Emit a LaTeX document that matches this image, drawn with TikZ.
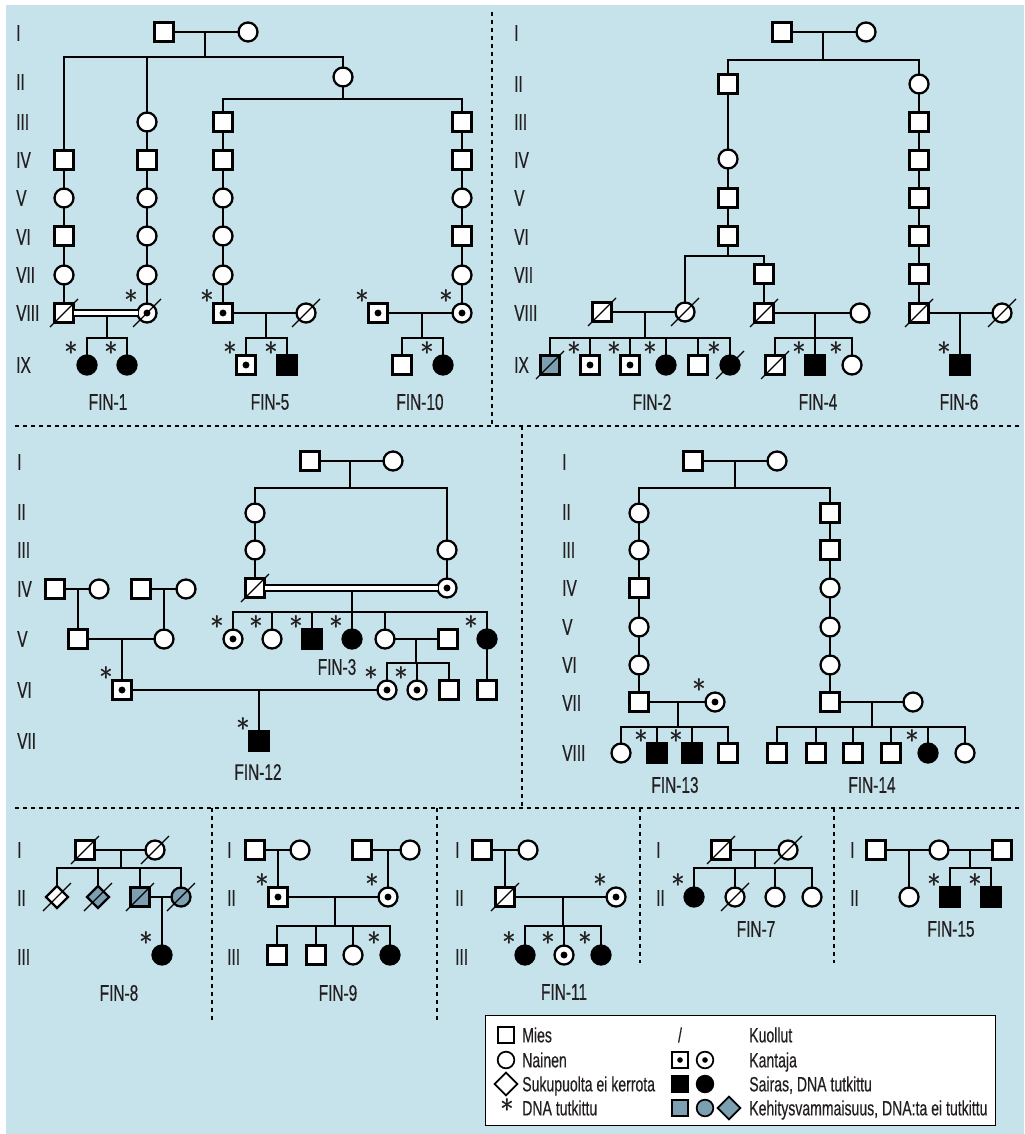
\documentclass[tikz,border=0pt]{standalone}
\usepackage{fontspec}
\setmainfont{Liberation Sans}[FakeStretch=0.68, FakeBold=0.4]
\usetikzlibrary{shapes.geometric}
\definecolor{bg}{RGB}{198,227,235}
\definecolor{grey}{RGB}{124,160,178}
\definecolor{txt}{RGB}{35,31,32}
\newcommand\genfont{\fontsize{17pt}{20pt}\selectfont}
\newcommand\legfont{\fontsize{15.5pt}{18pt}\selectfont}
\newcommand\astfont{\sffamily\fontsize{22pt}{22pt}\selectfont}
\newcommand\sibs[2]{\foreach \c in {#2} {\draw[ln] (\c) -- (\c |- #1);}}
\tikzset{
  sym/.style={draw=black, line width=1.7pt, fill=white, inner sep=0pt, outer sep=0pt, minimum size=14.25pt},
  mal/.style={sym, rectangle},
  fem/.style={sym, circle},
  unk/.style={sym, diamond, minimum size=16.5pt},
  aff/.style={fill=black},
  gry/.style={fill=grey},
  car/.style={path picture={\fill[black] (path picture bounding box.center) circle[radius=2.6pt];}},
  lcar/.style={path picture={\fill[black] (path picture bounding box.center) circle[radius=2.1pt];}},
  dslash/.style={draw=black, line width=0.9pt},
  dead/.style={append after command={([shift={(-14,14)}]\tikzlastnode.center) edge[dslash] ([shift={(14,-14)}]\tikzlastnode.center)}},
  astlab/.style={font=\astfont, text=txt, inner sep=0pt, xshift=-12pt, yshift=9pt},
  dna/.style={label={[astlab]center:{*}}},
  ln/.style={draw=black, line width=1.7pt, line cap=rect},
  dbl/.style={draw=black, line width=1.5pt, double=white, double distance=2.6pt},
  gen/.style={font=\genfont, text=txt, anchor=west, inner sep=0pt},
  fin/.style={font=\genfont, text=txt, inner sep=0pt},
  divline/.style={draw=black, line width=0.8pt, dash pattern=on 3.2pt off 2.8pt},
  lsym/.style={draw=black, line width=1.3pt, fill=white, inner sep=0pt, minimum size=12.5pt},
  lmal/.style={lsym, rectangle},
  lfem/.style={lsym, circle},
  lunk/.style={lsym, diamond, minimum size=17.5pt},
  legtxt/.style={font=\legfont, text=txt, anchor=west, inner sep=0pt, text height=11pt, text depth=0pt},
}
\begin{document}
\begin{tikzpicture}[x=0.75pt,y=-0.75pt]
\useasboundingbox (0,0) rectangle (1024,1134);
\fill[bg] (6,5) rectangle (1024,1134);
% panel dividers
\draw[divline] (492,12) -- (492,426);
\draw[divline] (15,426) -- (1020,426);
\draw[divline] (522,426) -- (522,808);
\draw[divline] (15,808) -- (1020,808);
\draw[divline] (212,808) -- (212,1022);
\draw[divline] (437,808) -- (437,1022);
\draw[divline] (640,808) -- (640,963);
\draw[divline] (834,808) -- (834,963);

% ================= Panel A: FIN-1, FIN-5, FIN-10
\foreach \t/\y in {I/33,II/82,III/122,IV/160,V/198,VI/237,VII/275,VIII/313,IX/365}
  \node[gen] (gA-\t) at (16,\y) {\t};
\node[mal] (A1) at (164,32) {};
\node[fem] (A2) at (248,32) {};
\coordinate (Am) at (205,32); \coordinate (As) at (205,57);
\node[mal] (A14) at (64,160) {};
\node[fem] (A15) at (64,198) {};
\node[mal] (A16) at (64,236) {};
\node[fem] (A17) at (64,275) {};
\node[mal,dead] (A18) at (64,313) {};
\node[fem] (A23) at (147,122) {};
\node[mal] (A24) at (147,160) {};
\node[fem] (A25) at (147,198) {};
\node[fem] (A26) at (147,236) {};
\node[fem] (A27) at (147,275) {};
\node[fem,car,dead,dna] (A28) at (147,313) {};
\node[fem] (A32) at (343,77) {};
\coordinate (A3s) at (343,99);
\node[mal] (A43) at (223,122) {};
\node[mal] (A44) at (223,160) {};
\node[fem] (A45) at (223,198) {};
\node[fem] (A46) at (223,236) {};
\node[fem] (A47) at (223,275) {};
\node[mal,car,dna] (A48) at (223,313) {};
\node[mal] (A53) at (462,122) {};
\node[mal] (A54) at (462,160) {};
\node[fem] (A55) at (462,198) {};
\node[mal] (A56) at (462,236) {};
\node[fem] (A57) at (462,275) {};
\node[fem,car,dna] (A58) at (462,313) {};
\coordinate (A1m) at (107,313); \coordinate (A1s) at (107,338);
\node[fem,aff,dna] (A19a) at (87,365) {};
\node[fem,aff,dna] (A19b) at (127,365) {};
\node[fem,dead] (A5w) at (306,313) {};
\coordinate (A5m) at (266,313); \coordinate (A5s) at (266,338);
\node[mal,car,dna] (A59a) at (246,365) {};
\node[mal,aff,dna] (A59b) at (287,365) {};
\node[mal,car,dna] (A10h) at (378,313) {};
\coordinate (A10m) at (422,313); \coordinate (A10s) at (422,338);
\node[mal] (A10a) at (402,365) {};
\node[fem,aff,dna] (A10b) at (443,365) {};
\draw[ln] (A1) -- (A2);
\draw[ln] (Am) -- (As);
\draw[ln] (A14) -- (A14 |- As) -- (A32 |- As) -- (A32);
\sibs{As}{A23}
\draw[ln] (A14) -- (A15) -- (A16) -- (A17) -- (A18);
\draw[ln] (A23) -- (A24) -- (A25) -- (A26) -- (A27) -- (A28);
\draw[ln] (A32) -- (A3s);
\draw[ln] (A43) -- (A43 |- A3s) -- (A53 |- A3s) -- (A53);
\draw[ln] (A43) -- (A44) -- (A45) -- (A46) -- (A47) -- (A48);
\draw[ln] (A53) -- (A54) -- (A55) -- (A56) -- (A57) -- (A58);
\draw[ln] (A1m) -- (A1s);
\draw[dbl] (A18) -- (A28);
\draw[ln] (A19a) -- (A19a |- A1s) -- (A19b |- A1s) -- (A19b);
\draw[ln] (A48) -- (A5w);
\draw[ln] (A5m) -- (A5s);
\draw[ln] (A59a) -- (A59a |- A5s) -- (A59b |- A5s) -- (A59b);
\draw[ln] (A10h) -- (A58);
\draw[ln] (A10m) -- (A10s);
\draw[ln] (A10a) -- (A10a |- A10s) -- (A10b |- A10s) -- (A10b);
\node[fin] (finA1) at (108,402) {FIN-1};
\node[fin] (finA5) at (270,402) {FIN-5};
\node[fin] (finA10) at (420,402) {FIN-10};

% ================= Panel B: FIN-2, FIN-4, FIN-6
\foreach \t/\y in {I/33,II/84,III/122,IV/160,V/198,VI/237,VII/275,VIII/313,IX/365}
  \node[gen] (gB-\t) at (514,\y) {\t};
\node[mal] (B1) at (782,32) {};
\node[fem] (B2) at (866,32) {};
\coordinate (Bm) at (823,32); \coordinate (Bs) at (823,60);
\node[mal] (BL2) at (728,84) {};
\node[fem] (BL4) at (728,159) {};
\node[mal] (BL5) at (728,198) {};
\node[mal] (BL6) at (728,236) {};
\coordinate (BLs) at (728,256);
\node[fem,dead] (B2w) at (685,312) {};
\node[mal] (B47) at (764,274) {};
\node[mal,dead] (B48) at (764,313) {};
\node[mal,dead] (B2h) at (602,312) {};
\coordinate (B2m) at (645,312); \coordinate (B2s) at (645,338);
\node[mal,gry,dead] (B2c1) at (550,365) {};
\node[mal,car,dna] (B2c2) at (590,365) {};
\node[mal,car,dna] (B2c3) at (630,365) {};
\node[fem,aff,dna] (B2c4) at (666,365) {};
\node[mal] (B2c5) at (698,365) {};
\node[fem,aff,dead,dna] (B2c6) at (730,365) {};
\node[fem] (B4w) at (860,313) {};
\coordinate (B4m) at (815,313); \coordinate (B4s) at (815,338);
\node[mal,dead] (B4c1) at (775,365) {};
\node[mal,aff,dna] (B4c2) at (815,365) {};
\node[fem,dna] (B4c3) at (852,365) {};
\node[fem] (BR2) at (919,84) {};
\node[mal] (BR3) at (919,122) {};
\node[mal] (BR4) at (919,160) {};
\node[mal] (BR5) at (919,198) {};
\node[mal] (BR6) at (919,236) {};
\node[mal] (BR7) at (919,274) {};
\node[mal,dead] (BR8) at (919,313) {};
\node[fem,dead] (B6w) at (1002,313) {};
\coordinate (B6m) at (960,313);
\node[mal,aff,dna] (B6c) at (960,365) {};
\draw[ln] (B1) -- (B2);
\draw[ln] (Bm) -- (Bs);
\draw[ln] (BL2) -- (BL2 |- Bs) -- (BR2 |- Bs) -- (BR2);
\draw[ln] (BL2) -- (BL4) -- (BL5) -- (BL6);
\draw[ln] (BL6) -- (BLs);
\draw[ln] (B2w) -- (B2w |- BLs) -- (B47 |- BLs) -- (B47);
\draw[ln] (B47) -- (B48);
\draw[ln] (B2h) -- (B2w);
\draw[ln] (B2m) -- (B2s);
\draw[ln] (B2c1 |- B2s) -- (B2c6 |- B2s);
\sibs{B2s}{B2c1,B2c2,B2c3,B2c4,B2c5,B2c6}
\draw[ln] (B48) -- (B4w);
\draw[ln] (B4m) -- (B4s);
\draw[ln] (B4c1 |- B4s) -- (B4c3 |- B4s);
\sibs{B4s}{B4c1,B4c2,B4c3}
\draw[ln] (BR2) -- (BR3) -- (BR4) -- (BR5) -- (BR6) -- (BR7) -- (BR8);
\draw[ln] (BR8) -- (B6w);
\draw[ln] (B6m) -- (B6c);
\node[fin] (finB2) at (652,402) {FIN-2};
\node[fin] (finB4) at (818,402) {FIN-4};
\node[fin] (finB6) at (959,402) {FIN-6};

% ================= Panel C: FIN-3, FIN-12
\foreach \t/\y in {I/462,II/512,III/550,IV/589,V/639,VI/690,VII/741}
  \node[gen] (gC-\t) at (17,\y) {\t};
\node[mal] (C1) at (310,461) {};
\node[fem] (C2) at (393,461) {};
\coordinate (Cm) at (350,461); \coordinate (Cs) at (350,488);
\node[fem] (CL2) at (255,513) {};
\node[fem] (CL3) at (255,550) {};
\node[mal,dead] (CL4) at (255,588) {};
\node[fem] (CR3) at (447,550) {};
\node[fem,car] (CR4) at (447,588) {};
\coordinate (C3m) at (352,588); \coordinate (C3s) at (352,612);
\node[fem,car,dna] (C5a) at (233,639) {};
\node[fem,dna] (C5b) at (272,639) {};
\node[mal,aff,dna] (C5c) at (312,639) {};
\node[fem,aff,dna] (C5d) at (352,639) {};
\node[fem] (C5e) at (385,639) {};
\node[fem,aff,dna] (C5f) at (487,639) {};
\node[mal] (C5h) at (448,639) {};
\coordinate (C5m) at (416,639); \coordinate (C5s) at (416,663);
\node[fem,car,dna] (C6a) at (387,690) {};
\node[fem,car,dna] (C6b) at (417,690) {};
\node[mal] (C6c) at (449,690) {};
\node[mal] (C6d) at (487,690) {};
\node[mal] (C4a) at (55,589) {};
\node[fem] (C4b) at (99,589) {};
\coordinate (C4am) at (78,589);
\node[mal] (C4c) at (141,589) {};
\node[fem] (C4d) at (186,589) {};
\coordinate (C4cm) at (164,589);
\node[mal] (C5x) at (78,639) {};
\node[fem] (C5y) at (164,639) {};
\coordinate (C5xm) at (122,639);
\node[mal,car,dna] (C6x) at (122,690) {};
\coordinate (C6m) at (259,690);
\node[mal,aff,dna] (C7) at (259,741) {};
\draw[ln] (C1) -- (C2);
\draw[ln] (Cm) -- (Cs);
\draw[ln] (CL2) -- (CL2 |- Cs) -- (CR3 |- Cs) -- (CR3);
\draw[ln] (CL2) -- (CL3) -- (CL4);
\draw[ln] (CR3) -- (CR4);
\draw[ln] (C3m) -- (C3s);
\draw[dbl] (CL4) -- (CR4);
\draw[ln] (C5a |- C3s) -- (C5f |- C3s);
\sibs{C3s}{C5a,C5b,C5c,C5d,C5e,C5f}
\draw[ln] (C5e) -- (C5h);
\draw[ln] (C5m) -- (C5s);
\draw[ln] (C6a |- C5s) -- (C6c |- C5s);
\sibs{C5s}{C6a,C6b,C6c}
\draw[ln] (C5f) -- (C6d);
\draw[ln] (C4a) -- (C4b);
\draw[ln] (C4am) -- (C5x);
\draw[ln] (C4c) -- (C4d);
\draw[ln] (C4cm) -- (C5y);
\draw[ln] (C5x) -- (C5y);
\draw[ln] (C5xm) -- (C6x);
\draw[ln] (C6x) -- (C6a);
\draw[ln] (C6m) -- (C7);
\node[fin] (finC3) at (337,667) {FIN-3};
\node[fin] (finC12) at (258,772) {FIN-12};

% ================= Panel D: FIN-13, FIN-14
\foreach \t/\y in {I/462,II/512,III/550,IV/588,V/627,VI/665,VII/703,VIII/753}
  \node[gen] (gD-\t) at (562,\y) {\t};
\node[mal] (D1) at (693,461) {};
\node[fem] (D2) at (777,461) {};
\coordinate (Dm) at (735,461); \coordinate (Ds) at (735,488);
\node[fem] (DL2) at (639,513) {};
\node[fem] (DL3) at (639,550) {};
\node[mal] (DL4) at (639,588) {};
\node[fem] (DL5) at (639,627) {};
\node[fem] (DL6) at (639,665) {};
\node[mal] (DL7) at (639,702) {};
\node[fem,car,dna] (D13w) at (715,702) {};
\coordinate (D13m) at (678,702); \coordinate (D13s) at (678,727);
\node[fem] (D13a) at (621,753) {};
\node[mal,aff,dna] (D13b) at (657,753) {};
\node[mal,aff,dna] (D13c) at (692,753) {};
\node[mal] (D13d) at (728,753) {};
\node[mal] (DR2) at (830,513) {};
\node[mal] (DR3) at (830,550) {};
\node[fem] (DR4) at (830,588) {};
\node[fem] (DR5) at (830,627) {};
\node[fem] (DR6) at (830,665) {};
\node[mal] (DR7) at (830,702) {};
\node[fem] (D14w) at (913,702) {};
\coordinate (D14m) at (872,702); \coordinate (D14s) at (872,727);
\node[mal] (D14a) at (777,753) {};
\node[mal] (D14b) at (816,753) {};
\node[mal] (D14c) at (853,753) {};
\node[mal] (D14d) at (891,753) {};
\node[fem,aff,dna] (D14e) at (928,753) {};
\node[fem] (D14f) at (965,753) {};
\draw[ln] (D1) -- (D2);
\draw[ln] (Dm) -- (Ds);
\draw[ln] (DL2) -- (DL2 |- Ds) -- (DR2 |- Ds) -- (DR2);
\draw[ln] (DL2) -- (DL3) -- (DL4) -- (DL5) -- (DL6) -- (DL7);
\draw[ln] (DR2) -- (DR3) -- (DR4) -- (DR5) -- (DR6) -- (DR7);
\draw[ln] (DL7) -- (D13w);
\draw[ln] (D13m) -- (D13s);
\draw[ln] (D13a |- D13s) -- (D13d |- D13s);
\sibs{D13s}{D13a,D13b,D13c,D13d}
\draw[ln] (DR7) -- (D14w);
\draw[ln] (D14m) -- (D14s);
\draw[ln] (D14a |- D14s) -- (D14f |- D14s);
\sibs{D14s}{D14a,D14b,D14c,D14d,D14e,D14f}
\node[fin] (finD13) at (675,785) {FIN-13};
\node[fin] (finD14) at (872,785) {FIN-14};

% ================= FIN-8
\foreach \t/\y in {I/850,II/898,III/957}
  \node[gen] (gE-\t) at (17,\y) {\t};
\node[mal,dead] (E1) at (85,850) {};
\node[fem,dead] (E2) at (155,850) {};
\coordinate (Em) at (121,850); \coordinate (Es) at (121,868);
\node[unk,dead] (Ea) at (57,897) {};
\node[unk,gry,dead] (Eb) at (98,897) {};
\node[mal,gry,dead] (Ec) at (140,897) {};
\node[fem,gry,dead] (Ed) at (181,897) {};
\coordinate (Ecm) at (162,897);
\node[fem,aff,dna] (Ee) at (162,955) {};
\draw[ln] (E1) -- (E2);
\draw[ln] (Em) -- (Es);
\draw[ln] (Ea |- Es) -- (Ed |- Es);
\sibs{Es}{Ea,Eb,Ec,Ed}
\draw[ln] (Ec) -- (Ed);
\draw[ln] (Ecm) -- (Ee);
\node[fin] (finE8) at (119,993) {FIN-8};

% ================= FIN-9
\foreach \t/\y in {I/850,II/898,III/957}
  \node[gen] (gG-\t) at (227,\y) {\t};
\node[mal] (G1) at (255,850) {};
\node[fem] (G2) at (300,850) {};
\coordinate (G1m) at (278,850);
\node[mal,car,dna] (G3) at (278,897) {};
\node[mal] (G4) at (362,850) {};
\node[fem] (G5) at (410,850) {};
\coordinate (G4m) at (388,850);
\node[fem,car,dna] (G6) at (388,897) {};
\coordinate (Gm) at (335,897); \coordinate (Gs) at (335,926);
\node[mal] (Ga) at (277,955) {};
\node[mal] (Gb) at (316,955) {};
\node[fem] (Gc) at (353,955) {};
\node[fem,aff,dna] (Gd) at (390,955) {};
\draw[ln] (G1) -- (G2);
\draw[ln] (G1m) -- (G3);
\draw[ln] (G4) -- (G5);
\draw[ln] (G4m) -- (G6);
\draw[ln] (G3) -- (G6);
\draw[ln] (Gm) -- (Gs);
\draw[ln] (Ga |- Gs) -- (Gd |- Gs);
\sibs{Gs}{Ga,Gb,Gc,Gd}
\node[fin] (finG9) at (338,993) {FIN-9};

% ================= FIN-11
\foreach \t/\y in {I/850,II/898,III/957}
  \node[gen] (gH-\t) at (455,\y) {\t};
\node[mal] (H1) at (482,850) {};
\node[fem] (H2) at (528,850) {};
\coordinate (H1m) at (505,850);
\node[mal,dead] (H3) at (505,897) {};
\node[fem,car,dna] (H4) at (616,897) {};
\coordinate (Hm) at (563,897); \coordinate (Hs) at (563,926);
\node[fem,aff,dna] (Ha) at (525,955) {};
\node[fem,car,dna] (Hb) at (564,955) {};
\node[fem,aff,dna] (Hc) at (601,955) {};
\draw[ln] (H1) -- (H2);
\draw[ln] (H1m) -- (H3);
\draw[ln] (H3) -- (H4);
\draw[ln] (Hm) -- (Hs);
\draw[ln] (Ha |- Hs) -- (Hc |- Hs);
\sibs{Hs}{Ha,Hb,Hc}
\node[fin] (finH11) at (564,992) {FIN-11};

% ================= FIN-7
\foreach \t/\y in {I/850,II/898}
  \node[gen] (gK-\t) at (656,\y) {\t};
\node[mal,dead] (K1) at (721,850) {};
\node[fem,dead] (K2) at (788,850) {};
\coordinate (Km) at (755,850); \coordinate (Ks) at (755,868);
\node[fem,aff,dna] (Ka) at (694,897) {};
\node[fem,dead] (Kb) at (735,897) {};
\node[fem] (Kc) at (775,897) {};
\node[fem] (Kd) at (812,897) {};
\draw[ln] (K1) -- (K2);
\draw[ln] (Km) -- (Ks);
\draw[ln] (Ka |- Ks) -- (Kd |- Ks);
\sibs{Ks}{Ka,Kb,Kc,Kd}
\node[fin] (finK7) at (756,929) {FIN-7};

% ================= FIN-15
\foreach \t/\y in {I/850,II/898}
  \node[gen] (gL-\t) at (850,\y) {\t};
\node[mal] (L1) at (876,850) {};
\node[fem] (L2) at (939,850) {};
\node[mal] (L3) at (1002,850) {};
\coordinate (L1m) at (909,850);
\node[fem] (La) at (909,897) {};
\coordinate (L2m) at (970,850); \coordinate (Ls) at (970,868);
\node[mal,aff,dna] (Lb) at (950,897) {};
\node[mal,aff,dna] (Lc) at (991,897) {};
\draw[ln] (L1) -- (L2);
\draw[ln] (L2) -- (L3);
\draw[ln] (L1m) -- (La);
\draw[ln] (L2m) -- (Ls);
\draw[ln] (Lb |- Ls) -- (Lc |- Ls);
\sibs{Ls}{Lb,Lc}
\node[fin] (finL15) at (951,929) {FIN-15};

% ================= Legend
\node[draw=black, line width=0.8pt, fill=white, minimum width=382.5pt, minimum height=82.5pt, anchor=north west, inner sep=0pt] (legend) at (485,1015) {};
\node[lmal] (lg1) at (506,1035) {};
\node[lfem] (lg2) at (506,1060) {};
\node[lunk] (lg3) at (506,1084) {};
\node[font=\astfont, text=txt, inner sep=0pt] (lg4) at (507,1110) {*};
\node[legtxt] (lt1) at (522,1035) {Mies};
\node[legtxt] (lt2) at (522,1060) {Nainen};
\node[legtxt] (lt3) at (522,1084) {Sukupuolta ei kerrota};
\node[legtxt] (lt4) at (522,1108) {DNA tutkittu};
\node[font=\legfont, text=txt, inner sep=0pt] (lg5) at (680,1035) {/};
\node[lmal,lcar] (lg6) at (680,1060) {};
\node[lfem,lcar] (lg7) at (705,1060) {};
\node[lmal,aff] (lg8) at (680,1084) {};
\node[lfem,aff] (lg9) at (705,1084) {};
\node[lmal,gry] (lg10) at (680,1108) {};
\node[lfem,gry] (lg11) at (705,1108) {};
\node[lunk,gry] (lg12) at (729,1108) {};
\node[legtxt] (lt5) at (749,1035) {Kuollut};
\node[legtxt] (lt6) at (749,1060) {Kantaja};
\node[legtxt] (lt7) at (749,1084) {Sairas, DNA tutkittu};
\node[legtxt] (lt8) at (749,1108) {Kehitysvammaisuus, DNA:ta ei tutkittu};
\end{tikzpicture}
\end{document}
